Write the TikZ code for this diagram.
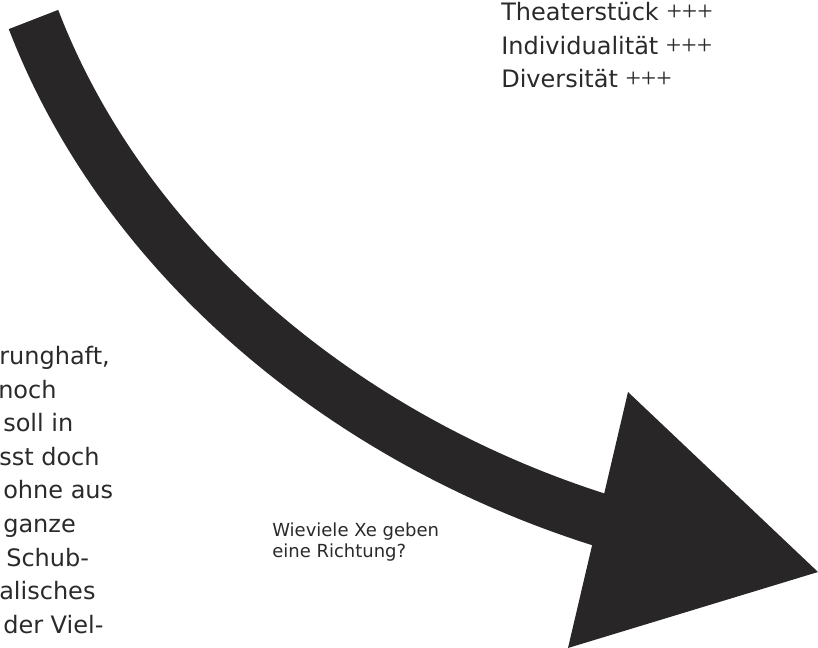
\documentclass[tikz,border=0pt]{standalone}
\usepackage{fontspec}
\usepackage{tikz}

\newfontfamily\dejavu{DejaVu Sans}
\newfontfamily\plusfont{Liberation Serif}
\definecolor{arrowgray}{RGB}{40,38,39}
\definecolor{textgray}{RGB}{42,42,42}
\newcommand{\tripleplus}{{\plusfont\fontsize{20.5}{20.5}\selectfont +++}}

\tikzset{
  bigtext/.style={font=\dejavu\fontsize{18}{25.2}\selectfont, text=textgray, inner sep=0pt, anchor=base west},
  smalltext/.style={font=\dejavu\fontsize{13.5}{15.75}\selectfont, text=textgray, inner sep=0pt, anchor=north west, align=left},
}

\begin{document}
\begin{tikzpicture}[x=0.75pt,y=-0.75pt]
            \useasboundingbox (0,0) rectangle (818,648);
            % arrow
            \fill[arrowgray] (628,392) -- (818,572) -- (568,648) -- cycle;
            \draw[arrowgray, line width=39.75pt] (33.5,19.5) .. controls (123,253) and (342,441) .. (610,523);
            % tags
            \node[bigtext, anchor=north west, align=left] (tags) at (501,2) {Theaterstück \tripleplus\\Individualität \tripleplus\\Diversität \tripleplus};
            % cut paragraph
            \node[bigtext] (p1) at (-1,365) {runghaft,};
            \node[bigtext] (p2) at (-2,398.5) {noch};
            \node[bigtext] (p3) at (3,432) {soll in};
            \node[bigtext] (p4) at (-1,465.5) {sst doch};
            \node[bigtext] (p5) at (3,499) {ohne aus};
            \node[bigtext] (p6) at (3,532.5) {ganze};
            \node[bigtext] (p7) at (6,566) {Schub-};
            \node[bigtext] (p8) at (-1,599.5) {alisches};
            \node[bigtext] (p9) at (3,633) {der Viel-};
            % question
            \node[smalltext] (question) at (272,523) {Wieviele Xe geben\\eine Richtung?};
\end{tikzpicture}
\end{document}
